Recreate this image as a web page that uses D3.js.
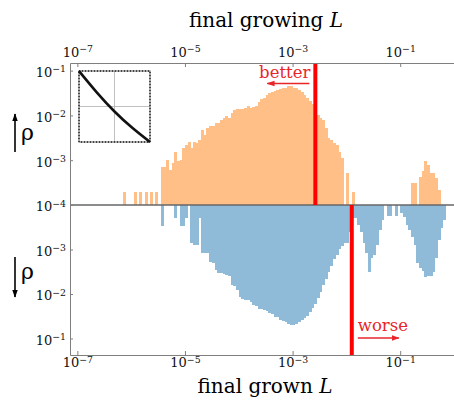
<!DOCTYPE html>
<html>
<head>
<meta charset="utf-8">
<script src="https://cdn.jsdelivr.net/npm/d3@7"></script>
<style>
body { margin: 0; background: #fff; }
svg text { font-family: "DejaVu Serif", serif; }
</style>
</head>
<body>
<script>
// data
var binStep = 0.05;          // bin width, in log10 L
var growingStart = -6.15;    // log10 of the left edge of the first growing bin
var growingRho = [
	2e-4, 0, 0, 0, 2e-4, 0, 2e-4, 0, 2e-4, 0, 2e-4, 0, 2e-4, 0,
	7.2e-4, 7.2e-4, 1.0e-3, 6.0e-4, 8.8e-4, 1.5e-3, 9.6e-4, 1.0e-3, 1.85e-3, 2.2e-3,
	2.6e-3, 1.9e-3, 2.6e-3, 2.4e-3, 2.8e-3, 4.7e-3, 3.65e-3, 5.2e-3, 5.9e-3, 5.9e-3,
	6.7e-3, 6.7e-3, 7.9e-3, 8.6e-3, 9.7e-3, 8.9e-3, 1.11e-2, 1.32e-2, 1.39e-2, 1.39e-2,
	1.39e-2, 1.46e-2, 1.65e-2, 1.44e-2, 1.54e-2, 1.65e-2, 2.0e-2, 2.3e-2, 2.5e-2, 2.85e-2,
	3.1e-2, 3.3e-2, 3.5e-2, 3.7e-2, 3.9e-2, 4.1e-2, 4.15e-2, 4.5e-2, 4.65e-2, 4.2e-2,
	4.0e-2, 3.7e-2, 3.3e-2, 2.9e-2, 2.5e-2, 2.15e-2, 1.8e-2, 1.32e-2, 1.02e-2, 8.7e-3,
	7.9e-3, 5.2e-3, 3.1e-3, 2.8e-3, 2.4e-3, 2.2e-3, 1.55e-3, 1.1e-3, 0, 5.1e-4,
	0, 2e-4, 0, 0, 0, 0, 0, 0, 0, 0,
	0, 0, 0, 0, 0, 0, 0, 0, 0, 0,
	0, 0, 0, 3.05e-4, 3.05e-4, 0, 4.3e-4, 5.8e-4, 9.8e-4, 7.8e-4,
	5.1e-4, 5.1e-4, 4.0e-4, 2.2e-4
];
var grownStart = -5.45;
var grownRho = [
	2.9e-4, 0, 0, 0, 0, 2e-4, 0, 3e-4, 3e-4, 2e-4,
	0, 7.3e-4, 7.9e-4, 7.9e-4, 2e-4, 1.17e-3, 1.17e-3, 1.17e-3, 1.9e-3, 2.0e-3,
	2.9e-3, 3.3e-3, 3.45e-3, 3.55e-3, 3.75e-3, 3.95e-3, 6.3e-3, 6.6e-3, 8.1e-3, 1.15e-2,
	1.3e-2, 1.36e-2, 1.36e-2, 1.51e-2, 1.81e-2, 1.86e-2, 2.12e-2, 2.23e-2, 2.29e-2, 2.35e-2,
	2.67e-2, 2.81e-2, 3.37e-2, 3.37e-2, 3.84e-2, 4.04e-2, 4.26e-2, 4.84e-2, 4.97e-2, 4.97e-2,
	4.72e-2, 4.37e-2, 3.84e-2, 3.46e-2, 3.12e-2, 2.54e-2, 2.07e-2, 1.68e-2, 1.23e-2, 9.0e-3,
	6.3e-3, 4.6e-3, 3.2e-3, 2.35e-3, 1.63e-3, 1.33e-3, 9.7e-4, 8.3e-4, 7.3e-4, 7.3e-4,
	4.0e-4, 2.0e-4, 2.0e-4, 2.8e-4, 4.05e-4, 7.1e-4, 1.22e-3, 3.2e-3, 1.55e-3, 1.33e-3,
	7.9e-4, 3.65e-4, 2.2e-4, 0, 1.8e-4, 1.8e-4, 0, 1.8e-4, 0, 1.55e-4,
	1.83e-4, 2.8e-4, 3.65e-4, 5.2e-4, 7.9e-4, 2.0e-3, 2.6e-3, 3.05e-3, 4.15e-3, 3.95e-3,
	3.95e-3, 3.2e-3, 1.55e-3, 6.1e-4, 3.3e-4, 2.2e-4
];
var growingCut = 2.65e-3;
var grownCut = 1.26e-2;
var xTicks = [1e-7, 1e-5, 1e-3, 1e-1];
var yTicksUp = [1e-1, 1e-2, 1e-3, 1e-4];
var yTicksDown = [1e-3, 1e-2, 1e-1];
var xDomain = [7.3e-8, 1];
var yUpDomain = [1e-4, 0.148];
var yDownDomain = [1e-4, 0.235];
// inset curve, both axes as fractions of the inset box
var insetT = [0, 0.25, 0.5, 0.75, 1];
var insetV = [1, 0.70, 0.43, 0.20, 0];

// chart
var W = 454, H = 402;
var margin = {top: 63, right: 0, bottom: 47, left: 70};
var width = W - margin.left - margin.right;
var height = H - margin.top - margin.bottom;
var mid = 142;
var axisColor = '#7f7f7f';
var red = '#ff0000';
var textRed = '#e8262a';

var svg = d3.select('body')
	.append('svg')
	.attr('width', W)
	.attr('height', H);

var defs = svg.append('defs');
function marker (id, color) {
	defs.append('marker')
		.attr('id', id)
		.attr('viewBox', '0 0 10 10')
		.attr('refX', 9).attr('refY', 5)
		.attr('markerUnits', 'userSpaceOnUse')
		.attr('markerWidth', 8).attr('markerHeight', 8)
		.attr('orient', 'auto')
		.append('path')
		.attr('d', 'M0,1.5L10,5L0,8.5Z')
		.attr('fill', color);
}
marker('headRed', textRed);
marker('headBlack', '#000');

var g = svg.append('g')
	.attr('transform', 'translate(' + margin.left + ',' + margin.top + ')');

var x = d3.scaleLog().domain(xDomain).range([0, width]);
var yUp = d3.scaleLog().domain(yUpDomain).range([mid, 0]);
var yDown = d3.scaleLog().domain(yDownDomain).range([mid, height]);

function bins (start, vals) {
	return vals.map(function (v, i) {
		return {
			lo: Math.pow(10, start + i * binStep),
			hi: Math.pow(10, start + (i + 1) * binStep),
			v: v
		};
	}).filter(function (d) { return d.v > 0; });
}

// histograms
g.selectAll('.up')
	.data(bins(growingStart, growingRho))
	.enter().append('rect')
	.attr('class', 'up')
	.attr('x', function (d) { return x(d.lo); })
	.attr('width', function (d) { return x(d.hi) - x(d.lo) + 0.2; })
	.attr('y', function (d) { return yUp(d.v); })
	.attr('height', function (d) { return mid - yUp(d.v); })
	.attr('fill', '#ffbf86')
	.attr('shape-rendering', 'crispEdges');

g.selectAll('.down')
	.data(bins(grownStart, grownRho))
	.enter().append('rect')
	.attr('class', 'down')
	.attr('x', function (d) { return x(d.lo); })
	.attr('width', function (d) { return x(d.hi) - x(d.lo) + 0.2; })
	.attr('y', mid)
	.attr('height', function (d) { return yDown(d.v) - mid; })
	.attr('fill', '#8fbbd9')
	.attr('shape-rendering', 'crispEdges');

// zero line
g.append('line')
	.attr('x1', 0).attr('x2', width)
	.attr('y1', mid).attr('y2', mid)
	.attr('stroke', '#666').attr('stroke-width', 1.3);

// thresholds
g.append('line')
	.attr('x1', x(growingCut)).attr('x2', x(growingCut))
	.attr('y1', 0).attr('y2', mid)
	.attr('stroke', red).attr('stroke-width', 4);
g.append('line')
	.attr('x1', x(grownCut)).attr('x2', x(grownCut))
	.attr('y1', mid).attr('y2', height)
	.attr('stroke', red).attr('stroke-width', 4);

// axes
function sup (sel) {
	sel.selectAll('.tick text').each(function (d) {
		var t = d3.select(this);
		t.text('10');
		t.append('tspan')
			.attr('dy', '-0.5em')
			.attr('font-size', '0.72em')
			.text('\u2212' + Math.round(-Math.log10(d)));
	});
}
function style (sel) {
	sel.attr('font-family', '"DejaVu Serif", serif').attr('font-size', 13);
	sel.select('.domain').attr('stroke', axisColor);
	sel.selectAll('.tick line').attr('stroke', axisColor);
	sel.selectAll('.tick text').attr('fill', '#111');
	sup(sel);
}

g.append('g')
	.call(d3.axisTop(x).tickValues(xTicks).tickSizeInner(-4).tickSizeOuter(0).tickPadding(6))
	.call(style);
g.append('g')
	.attr('transform', 'translate(0,' + height + ')')
	.call(d3.axisBottom(x).tickValues(xTicks).tickSizeInner(-4).tickSizeOuter(0).tickPadding(3))
	.call(style);
g.append('g')
	.call(d3.axisLeft(yUp).tickValues(yTicksUp).tickSizeInner(-3).tickSizeOuter(0).tickPadding(4))
	.call(style)
	.selectAll('.tick text').attr('dy', '0.45em');
g.append('g')
	.call(d3.axisLeft(yDown).tickValues(yTicksDown).tickSizeInner(-3).tickSizeOuter(0).tickPadding(4))
	.call(style)
	.selectAll('.tick text').attr('dy', '0.45em');

// annotations
var bx = x(growingCut);
g.append('text')
	.attr('x', bx - 5).attr('y', 15)
	.attr('text-anchor', 'end')
	.attr('font-size', 16.5)
	.attr('fill', textRed)
	.text('better');
g.append('line')
	.attr('x1', bx - 6).attr('x2', bx - 48)
	.attr('y1', 20.5).attr('y2', 20.5)
	.attr('stroke', textRed).attr('stroke-width', 1.5)
	.attr('marker-end', 'url(#headRed)');

var wx = x(grownCut);
g.append('text')
	.attr('x', wx + 6).attr('y', 268)
	.attr('font-size', 16.5)
	.attr('fill', textRed)
	.text('worse');
g.append('line')
	.attr('x1', wx + 6).attr('x2', wx + 47)
	.attr('y1', 275).attr('y2', 275)
	.attr('stroke', textRed).attr('stroke-width', 1.5)
	.attr('marker-end', 'url(#headRed)');

// axis titles
svg.append('text')
	.attr('x', 266).attr('y', 27)
	.attr('text-anchor', 'middle')
	.attr('font-size', 20)
	.text('final growing ')
	.append('tspan').attr('font-style', 'italic').text('L');
svg.append('text')
	.attr('x', 265).attr('y', 393)
	.attr('text-anchor', 'middle')
	.attr('font-size', 20)
	.text('final grown ')
	.append('tspan').attr('font-style', 'italic').text('L');

// rho labels
svg.append('line')
	.attr('x1', 15).attr('x2', 15).attr('y1', 152).attr('y2', 114)
	.attr('stroke', '#000').attr('stroke-width', 1.6)
	.attr('marker-end', 'url(#headBlack)');
svg.append('text').attr('x', 21).attr('y', 140).attr('font-size', 22).text('\u03c1');
svg.append('line')
	.attr('x1', 15).attr('x2', 15).attr('y1', 257).attr('y2', 297)
	.attr('stroke', '#000').attr('stroke-width', 1.6)
	.attr('marker-end', 'url(#headBlack)');
svg.append('text').attr('x', 21).attr('y', 279).attr('font-size', 22).text('\u03c1');

// inset
var ig = svg.append('g').attr('transform', 'translate(79,71)');
var isz = 71;
var ix = d3.scaleLinear().domain([0, 1]).range([0, isz]);
var iy = d3.scaleLinear().domain([0, 1]).range([isz, 0]);
ig.append('rect')
	.attr('width', isz).attr('height', isz)
	.attr('fill', '#fff');
ig.append('line')
	.attr('x1', ix(0.5)).attr('x2', ix(0.5)).attr('y1', 0).attr('y2', isz)
	.attr('stroke', '#b0b0b0').attr('stroke-width', 0.8);
ig.append('line')
	.attr('x1', 0).attr('x2', isz).attr('y1', iy(0.5)).attr('y2', iy(0.5))
	.attr('stroke', '#b0b0b0').attr('stroke-width', 0.8);
ig.append('rect')
	.attr('width', isz).attr('height', isz)
	.attr('fill', 'none')
	.attr('stroke', '#555').attr('stroke-width', 1);
ig.append('rect')
	.attr('width', isz).attr('height', isz)
	.attr('fill', 'none')
	.attr('stroke', '#222').attr('stroke-width', 1.4)
	.attr('stroke-dasharray', '1,2');
var curve = d3.line()
	.x(function (d, i) { return ix(insetT[i]); })
	.y(function (d) { return iy(d); })
	.curve(d3.curveNatural);
ig.append('path')
	.datum(insetV)
	.attr('d', curve)
	.attr('fill', 'none')
	.attr('stroke', '#111')
	.attr('stroke-width', 2.6);
</script>
</body>
</html>
